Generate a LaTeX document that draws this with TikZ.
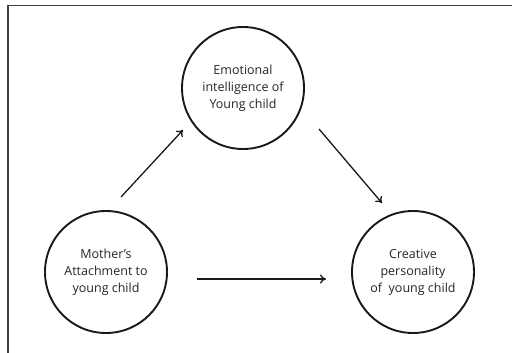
\documentclass[tikz,border=0pt]{standalone}
\usepackage{fontspec}
\setmainfont{Open Sans}
\usetikzlibrary{arrows.meta}
\definecolor{txt}{HTML}{262626}
\definecolor{frame}{HTML}{404040}
\begin{document}
\begin{tikzpicture}[x=1pt,y=-1pt,
  concept/.style={circle, draw=black!90, line width=1.9pt, minimum size=122pt, inner sep=0pt,
    align=center, text=txt, font=\fontsize{12.5}{17}\selectfont},
  link/.style={line width=1.3pt, black!90, -{To[length=6pt,width=9pt]}}]
\useasboundingbox (0,0) rectangle (512,353);
\fill[white] (0,0) rectangle (512,353);
\draw[frame, line width=1.4pt] (8,353) -- (8,5.5) -- (512,5.5);
\node[concept] (emo) at (243,88) {Emotional\\intelligence of\\Young child};
\node[concept] (mot) at (106,272) {Mother's\\Attachment to\\young child};
\node[concept] (cre) at (413,272) {Creative\\personality\\of\ \ young child};
\coordinate (a1s) at (121,197);
\coordinate (a1e) at (183,130);
\coordinate (a2s) at (319,129);
\coordinate (a2e) at (382,203);
\coordinate (a3s) at (197,279);
\coordinate (a3e) at (326,279);
\draw[link] (a1s) -- (a1e);
\draw[link] (a2s) -- (a2e);
\draw[link] (a3s) -- (a3e);
\end{tikzpicture}
\end{document}
